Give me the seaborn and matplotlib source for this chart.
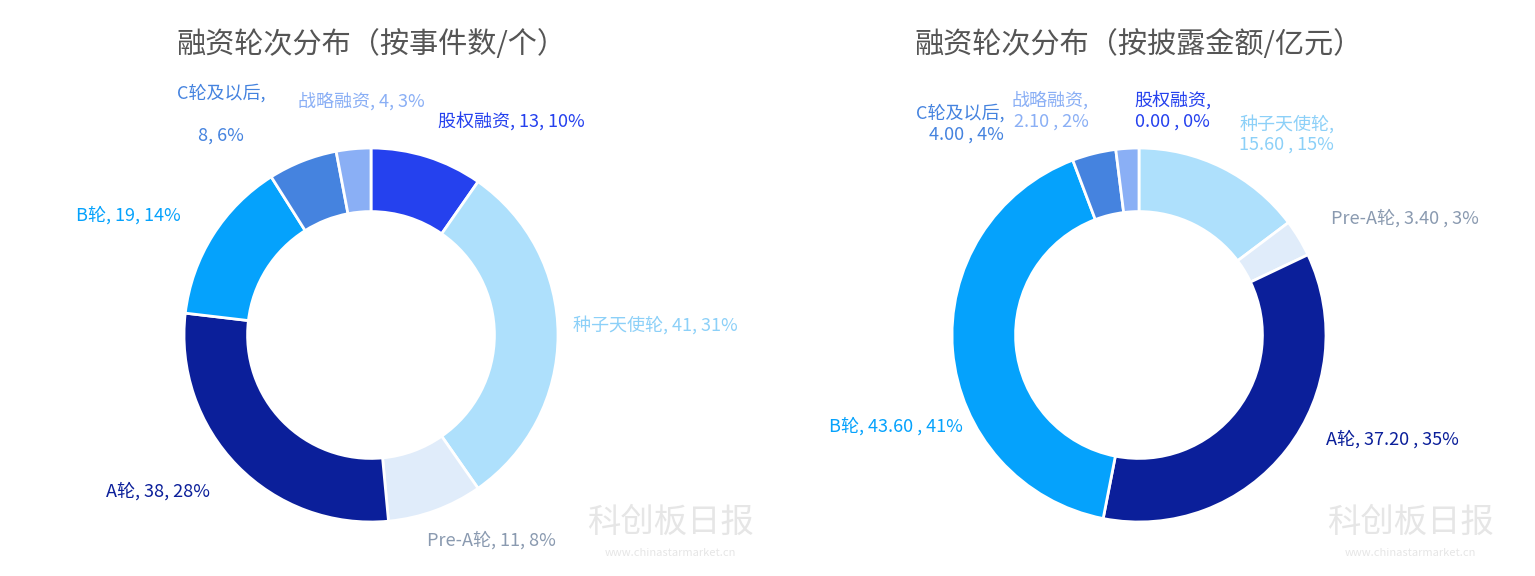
import matplotlib
matplotlib.use('Agg')
import matplotlib.pyplot as plt
import seaborn as sns

sns.set_theme(style='white')
plt.rcParams['font.family'] = ['Noto Sans CJK SC', 'DejaVu Sans']

categories = ['股权融资', '种子天使轮', 'Pre-A轮', 'A轮', 'B轮', 'C轮及以后', '战略融资']
counts = [13, 41, 11, 38, 19, 8, 4]
amounts = [0.00, 15.60, 3.40, 37.20, 43.60, 4.00, 2.10]
count_pct = ['10%', '31%', '8%', '28%', '14%', '6%', '3%']
amount_pct = ['0%', '15%', '3%', '35%', '41%', '4%', '2%']

wedge_colors = ['#2541ee', '#aee0fc', '#e0ecfa', '#0b1f9a', '#05a2fc', '#4583df', '#8aaff5']
label_colors = ['#2541ee', '#8cd0f8', '#8a9ab0', '#0b1f9a', '#05a2fc', '#4583df', '#8aaff5']

W, H = 1535, 576
fig = plt.figure(figsize=(W / 100, H / 100), dpi=100)
R = 187
HALF = 300


def donut(cx, cy, values, labels, title):
    ax = fig.add_axes([(cx - HALF) / W, (H - cy - HALF) / H, 2 * HALF / W, 2 * HALF / H])
    wedges, texts = ax.pie(values, colors=wedge_colors, startangle=90, counterclock=False,
                           radius=1, labels=labels, labeldistance=1.2,
                           wedgeprops=dict(width=0.34, edgecolor='white', linewidth=2),
                           textprops=dict(fontsize=13))
    ax.set_xlim(-HALF / R, HALF / R)
    ax.set_ylim(-HALF / R, HALF / R)
    ax.axis('off')
    for t, c in zip(texts, label_colors):
        t.set_color(c)
    fig.text(cx / W, 1 - 45 / H, title, ha='center', va='center', fontsize=21, color='#555555')
    return ax


left_labels = [f'{n}, {v}, {p}' for n, v, p in zip(categories, counts, count_pct)]
left_labels[5] = 'C轮及以后,\n\n8, 6%'
right_labels = [f'{n}, {v:.2f} , {p}' for n, v, p in zip(categories, amounts, amount_pct)]
right_labels[0] = '股权融资,\n0.00 , 0%'
right_labels[1] = '种子天使轮,\n15.60 , 15%'
right_labels[5] = 'C轮及以后,\n4.00 , 4%'
right_labels[6] = '战略融资,\n2.10 , 2%'

axl = donut(371, 335, counts, left_labels, '融资轮次分布（按事件数/个）')
for t in axl.texts:
    s = t.get_text()
    if s.startswith('C轮'):
        t.set_position((-0.8, 1.18)); t.set_ha('center')
    elif s.startswith('战略'):
        t.set_position((-0.05, 1.25)); t.set_ha('center')
    elif s.startswith('种子'):
        t.set_position((1.08, 0.05))
    elif s.startswith('Pre'):
        t.set_position((0.3, -1.05)); t.set_va('top')
axr = donut(1139, 335, amounts, right_labels, '融资轮次分布（按披露金额/亿元）')
# spread the crowded top labels on the right chart
for t in axr.texts:
    s = t.get_text()
    if s.startswith('股权'):
        t.set_position((0.18, 1.2)); t.set_ha('center')
    elif s.startswith('战略'):
        t.set_position((-0.27, 1.2)); t.set_ha('right')
    elif s.startswith('C轮'):
        t.set_position((-0.72, 1.13)); t.set_ha('right')
    elif s.startswith('B轮'):
        t.set_position((-0.94, -0.49)); t.set_ha('right')
    elif s.startswith('A轮'):
        t.set_position((1.0, -0.56))

for wx in (670, 1410):
    fig.text(wx / W, 1 - 522 / H, '科创板日报', ha='center', va='center', fontsize=24, color='#e6e6e6')
    fig.text(wx / W, 1 - 553 / H, 'www.chinastarmarket.cn', ha='center', va='center', fontsize=8, color='#e6e6e6')

fig.savefig('out.png', dpi=100)
